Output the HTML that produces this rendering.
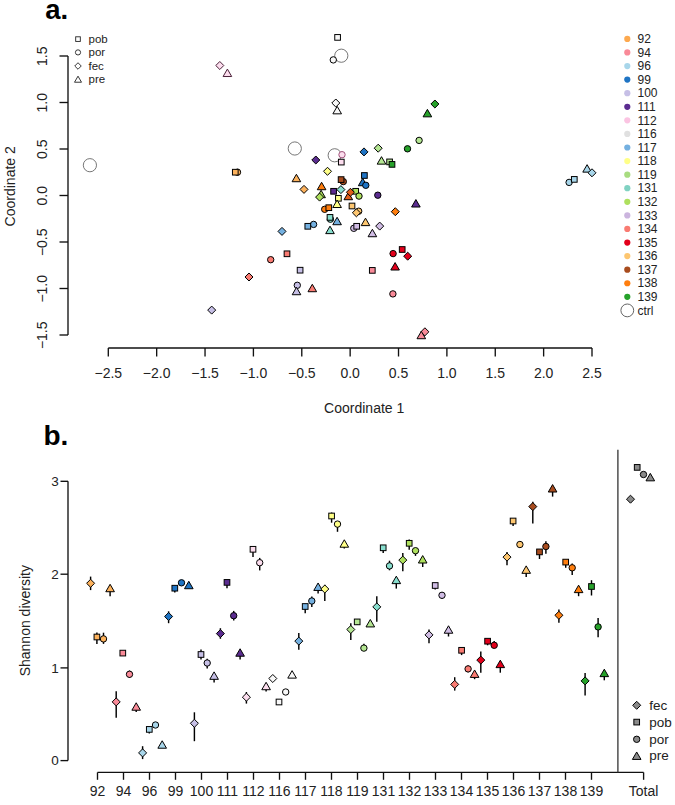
<!DOCTYPE html>
<html><head><meta charset="utf-8"><style>
html,body{margin:0;padding:0;background:#fff;width:675px;height:805px;overflow:hidden}
svg{display:block}
text{font-family:"Liberation Sans",sans-serif}
</style></head><body>
<svg width="675" height="805" viewBox="0 0 675 805">
<rect width="675" height="805" fill="#fff"/>
<text x="45.2" y="19.4" font-size="27.5" font-weight="bold" font-family="Liberation Sans, sans-serif">a.</text>
<line x1="68" y1="56" x2="68" y2="335" stroke="#111" stroke-width="1.35"/>
<line x1="59.5" y1="56.0" x2="68" y2="56.0" stroke="#111" stroke-width="1.35"/>
<text transform="translate(47.2 56.3) rotate(-90)" text-anchor="middle" font-size="14" font-family="Liberation Sans, sans-serif" fill="#222">1.5</text>
<line x1="59.5" y1="102.5" x2="68" y2="102.5" stroke="#111" stroke-width="1.35"/>
<text transform="translate(47.2 102.8) rotate(-90)" text-anchor="middle" font-size="14" font-family="Liberation Sans, sans-serif" fill="#222">1.0</text>
<line x1="59.5" y1="149.0" x2="68" y2="149.0" stroke="#111" stroke-width="1.35"/>
<text transform="translate(47.2 149.3) rotate(-90)" text-anchor="middle" font-size="14" font-family="Liberation Sans, sans-serif" fill="#222">0.5</text>
<line x1="59.5" y1="195.5" x2="68" y2="195.5" stroke="#111" stroke-width="1.35"/>
<text transform="translate(47.2 195.8) rotate(-90)" text-anchor="middle" font-size="14" font-family="Liberation Sans, sans-serif" fill="#222">0.0</text>
<line x1="59.5" y1="242.0" x2="68" y2="242.0" stroke="#111" stroke-width="1.35"/>
<text transform="translate(47.2 242.3) rotate(-90)" text-anchor="middle" font-size="14" font-family="Liberation Sans, sans-serif" fill="#222">−0.5</text>
<line x1="59.5" y1="288.5" x2="68" y2="288.5" stroke="#111" stroke-width="1.35"/>
<text transform="translate(47.2 288.8) rotate(-90)" text-anchor="middle" font-size="14" font-family="Liberation Sans, sans-serif" fill="#222">−1.0</text>
<line x1="59.5" y1="335.0" x2="68" y2="335.0" stroke="#111" stroke-width="1.35"/>
<text transform="translate(47.2 335.3) rotate(-90)" text-anchor="middle" font-size="14" font-family="Liberation Sans, sans-serif" fill="#222">−1.5</text>
<line x1="108.3" y1="348" x2="592" y2="348" stroke="#111" stroke-width="1.35"/>
<line x1="108.30" y1="348" x2="108.30" y2="356.5" stroke="#111" stroke-width="1.35"/>
<text x="108.30" y="378.4" text-anchor="middle" font-size="14" font-family="Liberation Sans, sans-serif" fill="#222">−2.5</text>
<line x1="156.67" y1="348" x2="156.67" y2="356.5" stroke="#111" stroke-width="1.35"/>
<text x="156.67" y="378.4" text-anchor="middle" font-size="14" font-family="Liberation Sans, sans-serif" fill="#222">−2.0</text>
<line x1="205.04" y1="348" x2="205.04" y2="356.5" stroke="#111" stroke-width="1.35"/>
<text x="205.04" y="378.4" text-anchor="middle" font-size="14" font-family="Liberation Sans, sans-serif" fill="#222">−1.5</text>
<line x1="253.41" y1="348" x2="253.41" y2="356.5" stroke="#111" stroke-width="1.35"/>
<text x="253.41" y="378.4" text-anchor="middle" font-size="14" font-family="Liberation Sans, sans-serif" fill="#222">−1.0</text>
<line x1="301.78" y1="348" x2="301.78" y2="356.5" stroke="#111" stroke-width="1.35"/>
<text x="301.78" y="378.4" text-anchor="middle" font-size="14" font-family="Liberation Sans, sans-serif" fill="#222">−0.5</text>
<line x1="350.15" y1="348" x2="350.15" y2="356.5" stroke="#111" stroke-width="1.35"/>
<text x="350.15" y="378.4" text-anchor="middle" font-size="14" font-family="Liberation Sans, sans-serif" fill="#222">0.0</text>
<line x1="398.52" y1="348" x2="398.52" y2="356.5" stroke="#111" stroke-width="1.35"/>
<text x="398.52" y="378.4" text-anchor="middle" font-size="14" font-family="Liberation Sans, sans-serif" fill="#222">0.5</text>
<line x1="446.89" y1="348" x2="446.89" y2="356.5" stroke="#111" stroke-width="1.35"/>
<text x="446.89" y="378.4" text-anchor="middle" font-size="14" font-family="Liberation Sans, sans-serif" fill="#222">1.0</text>
<line x1="495.26" y1="348" x2="495.26" y2="356.5" stroke="#111" stroke-width="1.35"/>
<text x="495.26" y="378.4" text-anchor="middle" font-size="14" font-family="Liberation Sans, sans-serif" fill="#222">1.5</text>
<line x1="543.63" y1="348" x2="543.63" y2="356.5" stroke="#111" stroke-width="1.35"/>
<text x="543.63" y="378.4" text-anchor="middle" font-size="14" font-family="Liberation Sans, sans-serif" fill="#222">2.0</text>
<line x1="592.00" y1="348" x2="592.00" y2="356.5" stroke="#111" stroke-width="1.35"/>
<text x="592.00" y="378.4" text-anchor="middle" font-size="14" font-family="Liberation Sans, sans-serif" fill="#222">2.5</text>
<text x="364.2" y="412.6" text-anchor="middle" font-size="14" font-family="Liberation Sans, sans-serif" fill="#222">Coordinate 1</text>
<text transform="translate(15 186.3) rotate(-90)" text-anchor="middle" font-size="14" font-family="Liberation Sans, sans-serif" fill="#222">Coordinate 2</text>
<rect x="75.70" y="36.80" width="4.61" height="4.61" fill="none" stroke="#222" stroke-width="0.9"/>
<circle cx="78.00" cy="52.40" r="2.60" fill="none" stroke="#222" stroke-width="0.9"/>
<path d="M78.00 62.74L81.26 66.00L78.00 69.26L74.74 66.00Z" fill="none" stroke="#222" stroke-width="0.9"/>
<path d="M78.00 76.17L81.50 82.23L74.50 82.23Z" fill="none" stroke="#222" stroke-width="0.9" stroke-linejoin="miter"/>
<text x="88.5" y="43.1" font-size="11.5" font-family="Liberation Sans, sans-serif" fill="#222">pob</text>
<text x="88.5" y="56.4" font-size="11.5" font-family="Liberation Sans, sans-serif" fill="#222">por</text>
<text x="88.5" y="70.0" font-size="11.5" font-family="Liberation Sans, sans-serif" fill="#222">fec</text>
<text x="88.5" y="83.2" font-size="11.5" font-family="Liberation Sans, sans-serif" fill="#222">pre</text>
<circle cx="627.3" cy="38.90" r="3.1" fill="#FDA94F"/>
<text x="637.5" y="43.10" font-size="12" font-family="Liberation Sans, sans-serif" fill="#222">92</text>
<circle cx="627.3" cy="52.47" r="3.1" fill="#F98A98"/>
<text x="637.5" y="56.67" font-size="12" font-family="Liberation Sans, sans-serif" fill="#222">94</text>
<circle cx="627.3" cy="66.05" r="3.1" fill="#A8D6EA"/>
<text x="637.5" y="70.25" font-size="12" font-family="Liberation Sans, sans-serif" fill="#222">96</text>
<circle cx="627.3" cy="79.62" r="3.1" fill="#1F74C4"/>
<text x="637.5" y="83.83" font-size="12" font-family="Liberation Sans, sans-serif" fill="#222">99</text>
<circle cx="627.3" cy="93.20" r="3.1" fill="#C6BFE6"/>
<text x="637.5" y="97.40" font-size="12" font-family="Liberation Sans, sans-serif" fill="#222">100</text>
<circle cx="627.3" cy="106.78" r="3.1" fill="#5B2C90"/>
<text x="637.5" y="110.98" font-size="12" font-family="Liberation Sans, sans-serif" fill="#222">111</text>
<circle cx="627.3" cy="120.35" r="3.1" fill="#FBC4E2"/>
<text x="637.5" y="124.55" font-size="12" font-family="Liberation Sans, sans-serif" fill="#222">112</text>
<circle cx="627.3" cy="133.92" r="3.1" fill="#E0E0E0"/>
<text x="637.5" y="138.12" font-size="12" font-family="Liberation Sans, sans-serif" fill="#222">116</text>
<circle cx="627.3" cy="147.50" r="3.1" fill="#74B0E0"/>
<text x="637.5" y="151.70" font-size="12" font-family="Liberation Sans, sans-serif" fill="#222">117</text>
<circle cx="627.3" cy="161.07" r="3.1" fill="#FFFF88"/>
<text x="637.5" y="165.27" font-size="12" font-family="Liberation Sans, sans-serif" fill="#222">118</text>
<circle cx="627.3" cy="174.65" r="3.1" fill="#A8DC80"/>
<text x="637.5" y="178.85" font-size="12" font-family="Liberation Sans, sans-serif" fill="#222">119</text>
<circle cx="627.3" cy="188.22" r="3.1" fill="#80D2C2"/>
<text x="637.5" y="192.42" font-size="12" font-family="Liberation Sans, sans-serif" fill="#222">131</text>
<circle cx="627.3" cy="201.80" r="3.1" fill="#AEE05E"/>
<text x="637.5" y="206.00" font-size="12" font-family="Liberation Sans, sans-serif" fill="#222">132</text>
<circle cx="627.3" cy="215.38" r="3.1" fill="#CBB4DE"/>
<text x="637.5" y="219.57" font-size="12" font-family="Liberation Sans, sans-serif" fill="#222">133</text>
<circle cx="627.3" cy="228.95" r="3.1" fill="#F97B72"/>
<text x="637.5" y="233.15" font-size="12" font-family="Liberation Sans, sans-serif" fill="#222">134</text>
<circle cx="627.3" cy="242.53" r="3.1" fill="#E3001B"/>
<text x="637.5" y="246.72" font-size="12" font-family="Liberation Sans, sans-serif" fill="#222">135</text>
<circle cx="627.3" cy="256.10" r="3.1" fill="#FDC670"/>
<text x="637.5" y="260.30" font-size="12" font-family="Liberation Sans, sans-serif" fill="#222">136</text>
<circle cx="627.3" cy="269.67" r="3.1" fill="#A84C1E"/>
<text x="637.5" y="273.87" font-size="12" font-family="Liberation Sans, sans-serif" fill="#222">137</text>
<circle cx="627.3" cy="283.25" r="3.1" fill="#FF7E0E"/>
<text x="637.5" y="287.45" font-size="12" font-family="Liberation Sans, sans-serif" fill="#222">138</text>
<circle cx="627.3" cy="296.82" r="3.1" fill="#26A22A"/>
<text x="637.5" y="301.02" font-size="12" font-family="Liberation Sans, sans-serif" fill="#222">139</text>
<circle cx="627.3" cy="310.40" r="6.4" fill="none" stroke="#555" stroke-width="0.9"/>
<text x="637.5" y="314.60" font-size="12" font-family="Liberation Sans, sans-serif" fill="#222">ctrl</text>
<circle cx="89.9" cy="165.2" r="6.6" fill="none" stroke="#666" stroke-width="0.9"/>
<circle cx="294.8" cy="148.5" r="6.6" fill="none" stroke="#666" stroke-width="0.9"/>
<circle cx="334.7" cy="155.3" r="6.6" fill="none" stroke="#666" stroke-width="0.9"/>
<circle cx="341.3" cy="55.7" r="6.6" fill="none" stroke="#666" stroke-width="0.9"/>
<rect x="334.76" y="34.56" width="5.67" height="5.67" fill="#F8F8F8" stroke="#000" stroke-width="1.0"/>
<circle cx="333.30" cy="59.90" r="3.20" fill="#F8F8F8" stroke="#000" stroke-width="1.0"/>
<path d="M335.80 98.99L339.81 103.00L335.80 107.01L331.79 103.00Z" fill="#F8F8F8" stroke="#000" stroke-width="1.0"/>
<path d="M337.20 106.37L341.51 113.83L332.89 113.83Z" fill="#F8F8F8" stroke="#000" stroke-width="1.0" stroke-linejoin="miter"/>
<path d="M219.80 61.49L223.81 65.50L219.80 69.51L215.79 65.50Z" fill="#FCDDEE" stroke="#4A2038" stroke-width="1.0"/>
<path d="M227.40 69.07L231.71 76.53L223.09 76.53Z" fill="#FCDDEE" stroke="#4A2038" stroke-width="1.0" stroke-linejoin="miter"/>
<circle cx="342.00" cy="154.70" r="3.20" fill="#FCDDEE" stroke="#A0507A" stroke-width="1.0"/>
<rect x="338.46" y="159.26" width="5.67" height="5.67" fill="#FCDDEE" stroke="#000" stroke-width="1.0"/>
<circle cx="237.50" cy="172.20" r="3.20" fill="#FDB25C" stroke="#000" stroke-width="1.0"/>
<rect x="232.46" y="169.36" width="5.67" height="5.67" fill="#FDB25C" stroke="#000" stroke-width="1.0"/>
<path d="M296.40 174.27L300.71 181.73L292.09 181.73Z" fill="#FDB25C" stroke="#000" stroke-width="1.0" stroke-linejoin="miter"/>
<path d="M304.00 185.39L308.01 189.40L304.00 193.41L299.99 189.40Z" fill="#FDB25C" stroke="#000" stroke-width="1.0"/>
<circle cx="419.10" cy="140.40" r="3.20" fill="#B4E692" stroke="#000" stroke-width="1.0"/>
<path d="M378.20 144.19L382.21 148.20L378.20 152.21L374.19 148.20Z" fill="#B4E692" stroke="#000" stroke-width="1.0"/>
<path d="M381.50 156.67L385.81 164.13L377.19 164.13Z" fill="#B4E692" stroke="#000" stroke-width="1.0" stroke-linejoin="miter"/>
<rect x="386.76" y="159.06" width="5.67" height="5.67" fill="#B4E692" stroke="#000" stroke-width="1.0"/>
<path d="M434.90 99.99L438.91 104.00L434.90 108.01L430.89 104.00Z" fill="#26A22A" stroke="#000" stroke-width="1.0"/>
<path d="M427.40 109.37L431.71 116.83L423.09 116.83Z" fill="#26A22A" stroke="#000" stroke-width="1.0" stroke-linejoin="miter"/>
<circle cx="407.50" cy="148.80" r="3.20" fill="#26A22A" stroke="#000" stroke-width="1.0"/>
<rect x="389.16" y="161.56" width="5.67" height="5.67" fill="#26A22A" stroke="#000" stroke-width="1.0"/>
<path d="M364.00 147.89L368.01 151.90L364.00 155.91L359.99 151.90Z" fill="#1F74C4" stroke="#000" stroke-width="1.0"/>
<rect x="361.56" y="172.66" width="5.67" height="5.67" fill="#1F74C4" stroke="#000" stroke-width="1.0"/>
<path d="M362.70 178.27L367.01 185.73L358.39 185.73Z" fill="#1F74C4" stroke="#000" stroke-width="1.0" stroke-linejoin="miter"/>
<circle cx="365.80" cy="185.30" r="3.20" fill="#1F74C4" stroke="#000" stroke-width="1.0"/>
<path d="M315.80 155.99L319.81 160.00L315.80 164.01L311.79 160.00Z" fill="#5B2C90" stroke="#000" stroke-width="1.0"/>
<rect x="330.76" y="188.46" width="5.67" height="5.67" fill="#5B2C90" stroke="#000" stroke-width="1.0"/>
<circle cx="377.80" cy="195.20" r="3.20" fill="#5B2C90" stroke="#000" stroke-width="1.0"/>
<path d="M415.90 199.57L420.21 207.03L411.59 207.03Z" fill="#5B2C90" stroke="#000" stroke-width="1.0" stroke-linejoin="miter"/>
<path d="M327.50 167.29L331.51 171.30L327.50 175.31L323.49 171.30Z" fill="#FFFF88" stroke="#000" stroke-width="1.0"/>
<rect x="335.56" y="195.46" width="5.67" height="5.67" fill="#FFFF88" stroke="#000" stroke-width="1.0"/>
<path d="M337.10 200.07L341.41 207.53L332.79 207.53Z" fill="#FFFF88" stroke="#000" stroke-width="1.0" stroke-linejoin="miter"/>
<circle cx="343.30" cy="181.60" r="3.20" fill="#A84C1E" stroke="#000" stroke-width="1.0"/>
<rect x="338.26" y="176.76" width="5.67" height="5.67" fill="#A84C1E" stroke="#000" stroke-width="1.0"/>
<path d="M340.90 185.59L344.91 189.60L340.90 193.61L336.89 189.60Z" fill="#88DECE" stroke="#000" stroke-width="1.0"/>
<path d="M321.10 190.27L325.41 197.73L316.79 197.73Z" fill="#AEE05E" stroke="#000" stroke-width="1.0" stroke-linejoin="miter"/>
<path d="M319.60 193.09L323.61 197.10L319.60 201.11L315.59 197.10Z" fill="#AEE05E" stroke="#000" stroke-width="1.0"/>
<path d="M321.60 182.27L325.91 189.73L317.29 189.73Z" fill="#FF7E0E" stroke="#000" stroke-width="1.0" stroke-linejoin="miter"/>
<circle cx="324.70" cy="209.30" r="3.20" fill="#FF7E0E" stroke="#000" stroke-width="1.0"/>
<rect x="325.96" y="204.86" width="5.67" height="5.67" fill="#FF7E0E" stroke="#000" stroke-width="1.0"/>
<path d="M395.30 207.69L399.31 211.70L395.30 215.71L391.29 211.70Z" fill="#FF7E0E" stroke="#000" stroke-width="1.0"/>
<path d="M348.30 192.27L352.61 199.73L343.99 199.73Z" fill="#E05E1C" stroke="#000" stroke-width="1.0" stroke-linejoin="miter"/>
<rect x="352.86" y="188.46" width="5.67" height="5.67" fill="#AEE05E" stroke="#000" stroke-width="1.0"/>
<path d="M350.40 188.29L354.41 192.30L350.40 196.31L346.39 192.30Z" fill="#E05E1C" stroke="#000" stroke-width="1.0"/>
<circle cx="359.00" cy="196.10" r="3.20" fill="#AEE05E" stroke="#000" stroke-width="1.0"/>
<rect x="349.16" y="203.16" width="5.67" height="5.67" fill="#FDC670" stroke="#000" stroke-width="1.0"/>
<circle cx="358.70" cy="211.20" r="3.20" fill="#FDC670" stroke="#000" stroke-width="1.0"/>
<path d="M356.40 208.79L360.41 212.80L356.40 216.81L352.39 212.80Z" fill="#FDC670" stroke="#000" stroke-width="1.0"/>
<path d="M365.50 218.17L369.81 225.63L361.19 225.63Z" fill="#FDC670" stroke="#000" stroke-width="1.0" stroke-linejoin="miter"/>
<circle cx="330.40" cy="219.20" r="3.20" fill="#88DECE" stroke="#000" stroke-width="1.0"/>
<rect x="327.16" y="214.56" width="5.67" height="5.67" fill="#88DECE" stroke="#000" stroke-width="1.0"/>
<path d="M330.00 226.17L334.31 233.63L325.69 233.63Z" fill="#88DECE" stroke="#000" stroke-width="1.0" stroke-linejoin="miter"/>
<path d="M337.10 217.27L341.41 224.73L332.79 224.73Z" fill="#74B0E0" stroke="#000" stroke-width="1.0" stroke-linejoin="miter"/>
<path d="M282.00 227.39L286.01 231.40L282.00 235.41L277.99 231.40Z" fill="#74B0E0" stroke="#000" stroke-width="1.0"/>
<circle cx="313.60" cy="224.40" r="3.20" fill="#74B0E0" stroke="#000" stroke-width="1.0"/>
<rect x="304.96" y="223.46" width="5.67" height="5.67" fill="#74B0E0" stroke="#000" stroke-width="1.0"/>
<circle cx="353.80" cy="228.30" r="3.20" fill="#D0BCE4" stroke="#000" stroke-width="1.0"/>
<rect x="353.86" y="223.46" width="5.67" height="5.67" fill="#D0BCE4" stroke="#000" stroke-width="1.0"/>
<path d="M379.70 222.09L383.71 226.10L379.70 230.11L375.69 226.10Z" fill="#D0BCE4" stroke="#000" stroke-width="1.0"/>
<path d="M372.40 229.27L376.71 236.73L368.09 236.73Z" fill="#D0BCE4" stroke="#000" stroke-width="1.0" stroke-linejoin="miter"/>
<rect x="399.36" y="246.66" width="5.67" height="5.67" fill="#E3001B" stroke="#000" stroke-width="1.0"/>
<circle cx="393.10" cy="253.60" r="3.20" fill="#E3001B" stroke="#000" stroke-width="1.0"/>
<path d="M407.70 252.19L411.71 256.20L407.70 260.21L403.69 256.20Z" fill="#E3001B" stroke="#000" stroke-width="1.0"/>
<path d="M395.10 262.57L399.41 270.03L390.79 270.03Z" fill="#E3001B" stroke="#000" stroke-width="1.0" stroke-linejoin="miter"/>
<rect x="284.16" y="250.96" width="5.67" height="5.67" fill="#F97B72" stroke="#000" stroke-width="1.0"/>
<circle cx="270.70" cy="259.70" r="3.20" fill="#F97B72" stroke="#000" stroke-width="1.0"/>
<path d="M249.00 272.99L253.01 277.00L249.00 281.01L244.99 277.00Z" fill="#F97B72" stroke="#000" stroke-width="1.0"/>
<path d="M312.30 284.27L316.61 291.73L307.99 291.73Z" fill="#F97B72" stroke="#000" stroke-width="1.0" stroke-linejoin="miter"/>
<rect x="369.46" y="267.56" width="5.67" height="5.67" fill="#F98A98" stroke="#000" stroke-width="1.0"/>
<circle cx="392.90" cy="293.90" r="3.20" fill="#F98A98" stroke="#000" stroke-width="1.0"/>
<path d="M424.90 327.79L428.91 331.80L424.90 335.81L420.89 331.80Z" fill="#F98A98" stroke="#000" stroke-width="1.0"/>
<path d="M421.30 331.27L425.61 338.73L416.99 338.73Z" fill="#F98A98" stroke="#000" stroke-width="1.0" stroke-linejoin="miter"/>
<rect x="297.26" y="267.36" width="5.67" height="5.67" fill="#C6BFE6" stroke="#000" stroke-width="1.0"/>
<circle cx="297.30" cy="285.30" r="3.20" fill="#C6BFE6" stroke="#000" stroke-width="1.0"/>
<path d="M296.50 287.27L300.81 294.73L292.19 294.73Z" fill="#C6BFE6" stroke="#000" stroke-width="1.0" stroke-linejoin="miter"/>
<path d="M211.70 306.09L215.71 310.10L211.70 314.11L207.69 310.10Z" fill="#C6BFE6" stroke="#000" stroke-width="1.0"/>
<circle cx="569.10" cy="182.40" r="3.20" fill="#A8D6EA" stroke="#000" stroke-width="1.0"/>
<rect x="571.46" y="176.56" width="5.67" height="5.67" fill="#A8D6EA" stroke="#000" stroke-width="1.0"/>
<path d="M587.10 164.67L591.41 172.13L582.79 172.13Z" fill="#A8D6EA" stroke="#000" stroke-width="1.0" stroke-linejoin="miter"/>
<path d="M592.00 168.79L596.01 172.80L592.00 176.81L587.99 172.80Z" fill="#A8D6EA" stroke="#000" stroke-width="1.0"/>
<text x="43.5" y="444.5" font-size="28" font-weight="bold" font-family="Liberation Sans, sans-serif">b.</text>
<line x1="68" y1="481.3" x2="68" y2="760.6" stroke="#111" stroke-width="1.35"/>
<line x1="60.5" y1="760.6" x2="68" y2="760.6" stroke="#111" stroke-width="1.35"/>
<text x="58.8" y="765.4" text-anchor="end" font-size="13.5" font-family="Liberation Sans, sans-serif" fill="#222">0</text>
<line x1="60.5" y1="667.9" x2="68" y2="667.9" stroke="#111" stroke-width="1.35"/>
<text x="58.8" y="672.7" text-anchor="end" font-size="13.5" font-family="Liberation Sans, sans-serif" fill="#222">1</text>
<line x1="60.5" y1="574.2" x2="68" y2="574.2" stroke="#111" stroke-width="1.35"/>
<text x="58.8" y="579.0" text-anchor="end" font-size="13.5" font-family="Liberation Sans, sans-serif" fill="#222">2</text>
<line x1="60.5" y1="481.3" x2="68" y2="481.3" stroke="#111" stroke-width="1.35"/>
<text x="58.8" y="486.1" text-anchor="end" font-size="13.5" font-family="Liberation Sans, sans-serif" fill="#222">3</text>
<text transform="translate(30 620.7) rotate(-90)" text-anchor="middle" font-size="14" font-family="Liberation Sans, sans-serif" fill="#222">Shannon diversity</text>
<line x1="97.5" y1="772.4" x2="643.6" y2="772.4" stroke="#111" stroke-width="1.35"/>
<line x1="97.50" y1="772.4" x2="97.50" y2="779.8" stroke="#111" stroke-width="1.35"/>
<text x="97.50" y="795.7" text-anchor="middle" font-size="14" font-family="Liberation Sans, sans-serif" fill="#222">92</text>
<line x1="123.50" y1="772.4" x2="123.50" y2="779.8" stroke="#111" stroke-width="1.35"/>
<text x="123.50" y="795.7" text-anchor="middle" font-size="14" font-family="Liberation Sans, sans-serif" fill="#222">94</text>
<line x1="149.50" y1="772.4" x2="149.50" y2="779.8" stroke="#111" stroke-width="1.35"/>
<text x="149.50" y="795.7" text-anchor="middle" font-size="14" font-family="Liberation Sans, sans-serif" fill="#222">96</text>
<line x1="175.50" y1="772.4" x2="175.50" y2="779.8" stroke="#111" stroke-width="1.35"/>
<text x="175.50" y="795.7" text-anchor="middle" font-size="14" font-family="Liberation Sans, sans-serif" fill="#222">99</text>
<line x1="201.50" y1="772.4" x2="201.50" y2="779.8" stroke="#111" stroke-width="1.35"/>
<text x="201.50" y="795.7" text-anchor="middle" font-size="14" font-family="Liberation Sans, sans-serif" fill="#222">100</text>
<line x1="227.50" y1="772.4" x2="227.50" y2="779.8" stroke="#111" stroke-width="1.35"/>
<text x="227.50" y="795.7" text-anchor="middle" font-size="14" font-family="Liberation Sans, sans-serif" fill="#222">111</text>
<line x1="253.50" y1="772.4" x2="253.50" y2="779.8" stroke="#111" stroke-width="1.35"/>
<text x="253.50" y="795.7" text-anchor="middle" font-size="14" font-family="Liberation Sans, sans-serif" fill="#222">112</text>
<line x1="279.50" y1="772.4" x2="279.50" y2="779.8" stroke="#111" stroke-width="1.35"/>
<text x="279.50" y="795.7" text-anchor="middle" font-size="14" font-family="Liberation Sans, sans-serif" fill="#222">116</text>
<line x1="305.50" y1="772.4" x2="305.50" y2="779.8" stroke="#111" stroke-width="1.35"/>
<text x="305.50" y="795.7" text-anchor="middle" font-size="14" font-family="Liberation Sans, sans-serif" fill="#222">117</text>
<line x1="331.50" y1="772.4" x2="331.50" y2="779.8" stroke="#111" stroke-width="1.35"/>
<text x="331.50" y="795.7" text-anchor="middle" font-size="14" font-family="Liberation Sans, sans-serif" fill="#222">118</text>
<line x1="357.50" y1="772.4" x2="357.50" y2="779.8" stroke="#111" stroke-width="1.35"/>
<text x="357.50" y="795.7" text-anchor="middle" font-size="14" font-family="Liberation Sans, sans-serif" fill="#222">119</text>
<line x1="383.50" y1="772.4" x2="383.50" y2="779.8" stroke="#111" stroke-width="1.35"/>
<text x="383.50" y="795.7" text-anchor="middle" font-size="14" font-family="Liberation Sans, sans-serif" fill="#222">131</text>
<line x1="409.50" y1="772.4" x2="409.50" y2="779.8" stroke="#111" stroke-width="1.35"/>
<text x="409.50" y="795.7" text-anchor="middle" font-size="14" font-family="Liberation Sans, sans-serif" fill="#222">132</text>
<line x1="435.50" y1="772.4" x2="435.50" y2="779.8" stroke="#111" stroke-width="1.35"/>
<text x="435.50" y="795.7" text-anchor="middle" font-size="14" font-family="Liberation Sans, sans-serif" fill="#222">133</text>
<line x1="461.50" y1="772.4" x2="461.50" y2="779.8" stroke="#111" stroke-width="1.35"/>
<text x="461.50" y="795.7" text-anchor="middle" font-size="14" font-family="Liberation Sans, sans-serif" fill="#222">134</text>
<line x1="487.50" y1="772.4" x2="487.50" y2="779.8" stroke="#111" stroke-width="1.35"/>
<text x="487.50" y="795.7" text-anchor="middle" font-size="14" font-family="Liberation Sans, sans-serif" fill="#222">135</text>
<line x1="513.50" y1="772.4" x2="513.50" y2="779.8" stroke="#111" stroke-width="1.35"/>
<text x="513.50" y="795.7" text-anchor="middle" font-size="14" font-family="Liberation Sans, sans-serif" fill="#222">136</text>
<line x1="539.50" y1="772.4" x2="539.50" y2="779.8" stroke="#111" stroke-width="1.35"/>
<text x="539.50" y="795.7" text-anchor="middle" font-size="14" font-family="Liberation Sans, sans-serif" fill="#222">137</text>
<line x1="565.50" y1="772.4" x2="565.50" y2="779.8" stroke="#111" stroke-width="1.35"/>
<text x="565.50" y="795.7" text-anchor="middle" font-size="14" font-family="Liberation Sans, sans-serif" fill="#222">138</text>
<line x1="591.50" y1="772.4" x2="591.50" y2="779.8" stroke="#111" stroke-width="1.35"/>
<text x="591.50" y="795.7" text-anchor="middle" font-size="14" font-family="Liberation Sans, sans-serif" fill="#222">139</text>
<line x1="643.60" y1="772.4" x2="643.60" y2="779.8" stroke="#111" stroke-width="1.35"/>
<text x="643.60" y="795.7" text-anchor="middle" font-size="14" font-family="Liberation Sans, sans-serif" fill="#222">Total</text>
<line x1="617.9" y1="449.8" x2="617.9" y2="772.4" stroke="#333" stroke-width="1.3"/>
<line x1="90.6" y1="576.6" x2="90.6" y2="583.3" stroke="#000" stroke-width="1.45"/>
<line x1="90.6" y1="583.3" x2="90.6" y2="590.1" stroke="#000" stroke-width="1.45"/>
<line x1="96.9" y1="632.5" x2="96.9" y2="637.0" stroke="#000" stroke-width="1.45"/>
<line x1="96.9" y1="637.0" x2="96.9" y2="644.0" stroke="#000" stroke-width="1.45"/>
<line x1="103.5" y1="632.7" x2="103.5" y2="638.9" stroke="#000" stroke-width="1.45"/>
<line x1="103.5" y1="638.9" x2="103.5" y2="643.9" stroke="#000" stroke-width="1.45"/>
<line x1="110.1" y1="589.2448" x2="110.1" y2="596.2" stroke="#000" stroke-width="1.45"/>
<line x1="116.2" y1="691.3" x2="116.2" y2="701.9" stroke="#000" stroke-width="1.45"/>
<line x1="116.2" y1="701.9" x2="116.2" y2="717.8" stroke="#000" stroke-width="1.45"/>
<line x1="129.5" y1="670.5" x2="129.5" y2="674.3" stroke="#000" stroke-width="1.45"/>
<line x1="129.5" y1="674.3" x2="129.5" y2="678.0" stroke="#000" stroke-width="1.45"/>
<line x1="136.2" y1="707.7448" x2="136.2" y2="712.0" stroke="#000" stroke-width="1.45"/>
<line x1="142.6" y1="746.2" x2="142.6" y2="752.9" stroke="#000" stroke-width="1.45"/>
<line x1="142.6" y1="752.9" x2="142.6" y2="759.1" stroke="#000" stroke-width="1.45"/>
<line x1="149.3" y1="729.4" x2="149.3" y2="733.5" stroke="#000" stroke-width="1.45"/>
<line x1="168.6" y1="611.3" x2="168.6" y2="616.5" stroke="#000" stroke-width="1.45"/>
<line x1="168.6" y1="616.5" x2="168.6" y2="623.2" stroke="#000" stroke-width="1.45"/>
<line x1="174.8" y1="588.2" x2="174.8" y2="592.4" stroke="#000" stroke-width="1.45"/>
<line x1="194.4" y1="712.3" x2="194.4" y2="723.3" stroke="#000" stroke-width="1.45"/>
<line x1="194.4" y1="723.3" x2="194.4" y2="741.2" stroke="#000" stroke-width="1.45"/>
<line x1="201.0" y1="649.6" x2="201.0" y2="654.5" stroke="#000" stroke-width="1.45"/>
<line x1="201.0" y1="654.5" x2="201.0" y2="659.4" stroke="#000" stroke-width="1.45"/>
<line x1="207.2" y1="658.7" x2="207.2" y2="663.0" stroke="#000" stroke-width="1.45"/>
<line x1="207.2" y1="663.0" x2="207.2" y2="668.4" stroke="#000" stroke-width="1.45"/>
<line x1="214.1" y1="676.8448000000001" x2="214.1" y2="682.4" stroke="#000" stroke-width="1.45"/>
<line x1="220.4" y1="628.2" x2="220.4" y2="633.6" stroke="#000" stroke-width="1.45"/>
<line x1="220.4" y1="633.6" x2="220.4" y2="638.8" stroke="#000" stroke-width="1.45"/>
<line x1="227.0" y1="582.4" x2="227.0" y2="588.2" stroke="#000" stroke-width="1.45"/>
<line x1="233.7" y1="610.9" x2="233.7" y2="615.7" stroke="#000" stroke-width="1.45"/>
<line x1="233.7" y1="615.7" x2="233.7" y2="620.5" stroke="#000" stroke-width="1.45"/>
<line x1="240.1" y1="653.7448" x2="240.1" y2="659.5" stroke="#000" stroke-width="1.45"/>
<line x1="246.4" y1="692.0" x2="246.4" y2="697.2" stroke="#000" stroke-width="1.45"/>
<line x1="246.4" y1="697.2" x2="246.4" y2="703.6" stroke="#000" stroke-width="1.45"/>
<line x1="253.0" y1="549.3" x2="253.0" y2="557.0" stroke="#000" stroke-width="1.45"/>
<line x1="259.7" y1="557.9" x2="259.7" y2="562.7" stroke="#000" stroke-width="1.45"/>
<line x1="259.7" y1="562.7" x2="259.7" y2="570.4" stroke="#000" stroke-width="1.45"/>
<line x1="266.1" y1="687.2448" x2="266.1" y2="691.6" stroke="#000" stroke-width="1.45"/>
<line x1="298.8" y1="633.0" x2="298.8" y2="641.1" stroke="#000" stroke-width="1.45"/>
<line x1="298.8" y1="641.1" x2="298.8" y2="649.8" stroke="#000" stroke-width="1.45"/>
<line x1="305.2" y1="606.5" x2="305.2" y2="613.2" stroke="#000" stroke-width="1.45"/>
<line x1="311.8" y1="596.4" x2="311.8" y2="601.0" stroke="#000" stroke-width="1.45"/>
<line x1="311.8" y1="601.0" x2="311.8" y2="607.0" stroke="#000" stroke-width="1.45"/>
<line x1="318.1" y1="587.9448000000001" x2="318.1" y2="593.5" stroke="#000" stroke-width="1.45"/>
<line x1="324.8" y1="584.7" x2="324.8" y2="589.0" stroke="#000" stroke-width="1.45"/>
<line x1="324.8" y1="589.0" x2="324.8" y2="601.1" stroke="#000" stroke-width="1.45"/>
<line x1="331.6" y1="512.5" x2="331.6" y2="516.0" stroke="#000" stroke-width="1.45"/>
<line x1="331.6" y1="516.0" x2="331.6" y2="522.7" stroke="#000" stroke-width="1.45"/>
<line x1="337.5" y1="524.1" x2="337.5" y2="531.8" stroke="#000" stroke-width="1.45"/>
<line x1="344.3" y1="544.7448" x2="344.3" y2="548.5" stroke="#000" stroke-width="1.45"/>
<line x1="350.8" y1="623.2" x2="350.8" y2="629.5" stroke="#000" stroke-width="1.45"/>
<line x1="350.8" y1="629.5" x2="350.8" y2="639.9" stroke="#000" stroke-width="1.45"/>
<line x1="357.2" y1="619.0" x2="357.2" y2="621.9" stroke="#000" stroke-width="1.45"/>
<line x1="357.2" y1="621.9" x2="357.2" y2="625.0" stroke="#000" stroke-width="1.45"/>
<line x1="363.9" y1="643.7" x2="363.9" y2="648.1" stroke="#000" stroke-width="1.45"/>
<line x1="376.8" y1="596.3" x2="376.8" y2="606.9" stroke="#000" stroke-width="1.45"/>
<line x1="376.8" y1="606.9" x2="376.8" y2="621.7" stroke="#000" stroke-width="1.45"/>
<line x1="383.2" y1="547.8" x2="383.2" y2="553.0" stroke="#000" stroke-width="1.45"/>
<line x1="389.5" y1="560.7" x2="389.5" y2="565.9" stroke="#000" stroke-width="1.45"/>
<line x1="389.5" y1="565.9" x2="389.5" y2="570.3" stroke="#000" stroke-width="1.45"/>
<line x1="396.3" y1="581.1448" x2="396.3" y2="588.6" stroke="#000" stroke-width="1.45"/>
<line x1="402.8" y1="553.0" x2="402.8" y2="560.1" stroke="#000" stroke-width="1.45"/>
<line x1="402.8" y1="560.1" x2="402.8" y2="571.3" stroke="#000" stroke-width="1.45"/>
<line x1="409.2" y1="539.5" x2="409.2" y2="543.3" stroke="#000" stroke-width="1.45"/>
<line x1="409.2" y1="543.3" x2="409.2" y2="549.7" stroke="#000" stroke-width="1.45"/>
<line x1="415.5" y1="550.7" x2="415.5" y2="555.9" stroke="#000" stroke-width="1.45"/>
<line x1="422.7" y1="560.5448" x2="422.7" y2="567.0" stroke="#000" stroke-width="1.45"/>
<line x1="429.0" y1="629.5" x2="429.0" y2="634.9" stroke="#000" stroke-width="1.45"/>
<line x1="429.0" y1="634.9" x2="429.0" y2="643.3" stroke="#000" stroke-width="1.45"/>
<line x1="435.2" y1="585.5" x2="435.2" y2="589.6" stroke="#000" stroke-width="1.45"/>
<line x1="442.0" y1="592.0" x2="442.0" y2="595.3" stroke="#000" stroke-width="1.45"/>
<line x1="442.0" y1="595.3" x2="442.0" y2="598.6" stroke="#000" stroke-width="1.45"/>
<line x1="448.5" y1="630.7448" x2="448.5" y2="636.5" stroke="#000" stroke-width="1.45"/>
<line x1="454.7" y1="677.2" x2="454.7" y2="684.4" stroke="#000" stroke-width="1.45"/>
<line x1="454.7" y1="684.4" x2="454.7" y2="690.6" stroke="#000" stroke-width="1.45"/>
<line x1="461.6" y1="650.3" x2="461.6" y2="655.1" stroke="#000" stroke-width="1.45"/>
<line x1="468.1" y1="665.6" x2="468.1" y2="668.9" stroke="#000" stroke-width="1.45"/>
<line x1="468.1" y1="668.9" x2="468.1" y2="672.2" stroke="#000" stroke-width="1.45"/>
<line x1="474.6" y1="674.9448000000001" x2="474.6" y2="679.2" stroke="#000" stroke-width="1.45"/>
<line x1="480.8" y1="651.5" x2="480.8" y2="660.1" stroke="#000" stroke-width="1.45"/>
<line x1="480.8" y1="660.1" x2="480.8" y2="672.7" stroke="#000" stroke-width="1.45"/>
<line x1="487.6" y1="641.2" x2="487.6" y2="645.3" stroke="#000" stroke-width="1.45"/>
<line x1="494.2" y1="640.9" x2="494.2" y2="645.3" stroke="#000" stroke-width="1.45"/>
<line x1="500.3" y1="665.1448" x2="500.3" y2="672.7" stroke="#000" stroke-width="1.45"/>
<line x1="507.0" y1="551.9" x2="507.0" y2="557.1" stroke="#000" stroke-width="1.45"/>
<line x1="507.0" y1="557.1" x2="507.0" y2="565.3" stroke="#000" stroke-width="1.45"/>
<line x1="513.1" y1="521.0" x2="513.1" y2="525.9" stroke="#000" stroke-width="1.45"/>
<line x1="526.2" y1="570.8448000000001" x2="526.2" y2="576.9" stroke="#000" stroke-width="1.45"/>
<line x1="532.8" y1="501.8" x2="532.8" y2="506.6" stroke="#000" stroke-width="1.45"/>
<line x1="532.8" y1="506.6" x2="532.8" y2="523.5" stroke="#000" stroke-width="1.45"/>
<line x1="539.5" y1="551.9" x2="539.5" y2="559.0" stroke="#000" stroke-width="1.45"/>
<line x1="545.9" y1="541.3" x2="545.9" y2="546.5" stroke="#000" stroke-width="1.45"/>
<line x1="545.9" y1="546.5" x2="545.9" y2="553.8" stroke="#000" stroke-width="1.45"/>
<line x1="552.6" y1="489.5448" x2="552.6" y2="496.6" stroke="#000" stroke-width="1.45"/>
<line x1="558.9" y1="609.4" x2="558.9" y2="615.3" stroke="#000" stroke-width="1.45"/>
<line x1="558.9" y1="615.3" x2="558.9" y2="622.8" stroke="#000" stroke-width="1.45"/>
<line x1="565.7" y1="562.1" x2="565.7" y2="567.8" stroke="#000" stroke-width="1.45"/>
<line x1="572.2" y1="563.4" x2="572.2" y2="567.8" stroke="#000" stroke-width="1.45"/>
<line x1="572.2" y1="567.8" x2="572.2" y2="575.0" stroke="#000" stroke-width="1.45"/>
<line x1="578.6" y1="590.1448" x2="578.6" y2="596.2" stroke="#000" stroke-width="1.45"/>
<line x1="585.1" y1="673.1" x2="585.1" y2="680.9" stroke="#000" stroke-width="1.45"/>
<line x1="585.1" y1="680.9" x2="585.1" y2="695.6" stroke="#000" stroke-width="1.45"/>
<line x1="591.5" y1="580.2" x2="591.5" y2="586.5" stroke="#000" stroke-width="1.45"/>
<line x1="591.5" y1="586.5" x2="591.5" y2="595.5" stroke="#000" stroke-width="1.45"/>
<line x1="598.1" y1="618.0" x2="598.1" y2="626.9" stroke="#000" stroke-width="1.45"/>
<line x1="598.1" y1="626.9" x2="598.1" y2="637.2" stroke="#000" stroke-width="1.45"/>
<line x1="604.3" y1="674.1448" x2="604.3" y2="680.3" stroke="#000" stroke-width="1.45"/>
<path d="M90.60 579.29L94.61 583.30L90.60 587.31L86.59 583.30Z" fill="#FDB25C" stroke="#000" stroke-width="1.0"/>
<rect x="94.06" y="634.16" width="5.67" height="5.67" fill="#FDB25C" stroke="#000" stroke-width="1.0"/>
<circle cx="103.50" cy="638.90" r="3.20" fill="#FDB25C" stroke="#000" stroke-width="1.0"/>
<path d="M110.10 584.27L114.41 591.73L105.79 591.73Z" fill="#FDB25C" stroke="#000" stroke-width="1.0" stroke-linejoin="miter"/>
<path d="M116.20 697.89L120.21 701.90L116.20 705.91L112.19 701.90Z" fill="#F98A98" stroke="#000" stroke-width="1.0"/>
<rect x="119.96" y="650.26" width="5.67" height="5.67" fill="#F98A98" stroke="#000" stroke-width="1.0"/>
<circle cx="129.50" cy="674.30" r="3.20" fill="#F98A98" stroke="#000" stroke-width="1.0"/>
<path d="M136.20 702.77L140.51 710.23L131.89 710.23Z" fill="#F98A98" stroke="#000" stroke-width="1.0" stroke-linejoin="miter"/>
<path d="M142.60 748.89L146.61 752.90L142.60 756.91L138.59 752.90Z" fill="#A8D6EA" stroke="#000" stroke-width="1.0"/>
<rect x="146.46" y="726.56" width="5.67" height="5.67" fill="#A8D6EA" stroke="#000" stroke-width="1.0"/>
<circle cx="155.50" cy="725.00" r="3.20" fill="#A8D6EA" stroke="#000" stroke-width="1.0"/>
<path d="M162.20 740.77L166.51 748.23L157.89 748.23Z" fill="#A8D6EA" stroke="#000" stroke-width="1.0" stroke-linejoin="miter"/>
<path d="M168.60 612.49L172.61 616.50L168.60 620.51L164.59 616.50Z" fill="#1F74C4" stroke="#000" stroke-width="1.0"/>
<rect x="171.96" y="585.36" width="5.67" height="5.67" fill="#1F74C4" stroke="#000" stroke-width="1.0"/>
<circle cx="181.50" cy="582.80" r="3.20" fill="#1F74C4" stroke="#000" stroke-width="1.0"/>
<path d="M188.80 581.27L193.11 588.73L184.49 588.73Z" fill="#1F74C4" stroke="#000" stroke-width="1.0" stroke-linejoin="miter"/>
<path d="M194.40 719.29L198.41 723.30L194.40 727.31L190.39 723.30Z" fill="#C6BFE6" stroke="#000" stroke-width="1.0"/>
<rect x="198.16" y="651.66" width="5.67" height="5.67" fill="#C6BFE6" stroke="#000" stroke-width="1.0"/>
<circle cx="207.20" cy="663.00" r="3.20" fill="#C6BFE6" stroke="#000" stroke-width="1.0"/>
<path d="M214.10 671.87L218.41 679.33L209.79 679.33Z" fill="#C6BFE6" stroke="#000" stroke-width="1.0" stroke-linejoin="miter"/>
<path d="M220.40 629.59L224.41 633.60L220.40 637.61L216.39 633.60Z" fill="#5B2C90" stroke="#000" stroke-width="1.0"/>
<rect x="224.16" y="579.56" width="5.67" height="5.67" fill="#5B2C90" stroke="#000" stroke-width="1.0"/>
<circle cx="233.70" cy="615.70" r="3.20" fill="#5B2C90" stroke="#000" stroke-width="1.0"/>
<path d="M240.10 648.77L244.41 656.23L235.79 656.23Z" fill="#5B2C90" stroke="#000" stroke-width="1.0" stroke-linejoin="miter"/>
<path d="M246.40 693.19L250.41 697.20L246.40 701.21L242.39 697.20Z" fill="#FCDDEE" stroke="#000" stroke-width="1.0"/>
<rect x="250.16" y="546.46" width="5.67" height="5.67" fill="#FCDDEE" stroke="#000" stroke-width="1.0"/>
<circle cx="259.70" cy="562.70" r="3.20" fill="#FCDDEE" stroke="#000" stroke-width="1.0"/>
<path d="M266.10 682.27L270.41 689.73L261.79 689.73Z" fill="#FCDDEE" stroke="#000" stroke-width="1.0" stroke-linejoin="miter"/>
<path d="M272.80 674.49L276.81 678.50L272.80 682.51L268.79 678.50Z" fill="#F8F8F8" stroke="#000" stroke-width="1.0"/>
<rect x="276.16" y="699.16" width="5.67" height="5.67" fill="#F8F8F8" stroke="#000" stroke-width="1.0"/>
<circle cx="285.70" cy="692.00" r="3.20" fill="#F8F8F8" stroke="#000" stroke-width="1.0"/>
<path d="M292.10 670.67L296.41 678.13L287.79 678.13Z" fill="#F8F8F8" stroke="#000" stroke-width="1.0" stroke-linejoin="miter"/>
<path d="M298.80 637.09L302.81 641.10L298.80 645.11L294.79 641.10Z" fill="#74B0E0" stroke="#000" stroke-width="1.0"/>
<rect x="302.36" y="603.66" width="5.67" height="5.67" fill="#74B0E0" stroke="#000" stroke-width="1.0"/>
<circle cx="311.80" cy="601.00" r="3.20" fill="#74B0E0" stroke="#000" stroke-width="1.0"/>
<path d="M318.10 582.97L322.41 590.43L313.79 590.43Z" fill="#74B0E0" stroke="#000" stroke-width="1.0" stroke-linejoin="miter"/>
<path d="M324.80 584.99L328.81 589.00L324.80 593.01L320.79 589.00Z" fill="#FFFF88" stroke="#000" stroke-width="1.0"/>
<rect x="328.76" y="513.16" width="5.67" height="5.67" fill="#FFFF88" stroke="#000" stroke-width="1.0"/>
<circle cx="337.50" cy="524.10" r="3.20" fill="#FFFF88" stroke="#000" stroke-width="1.0"/>
<path d="M344.30 539.77L348.61 547.23L339.99 547.23Z" fill="#FFFF88" stroke="#000" stroke-width="1.0" stroke-linejoin="miter"/>
<path d="M350.80 625.49L354.81 629.50L350.80 633.51L346.79 629.50Z" fill="#B4E692" stroke="#000" stroke-width="1.0"/>
<rect x="354.36" y="619.06" width="5.67" height="5.67" fill="#B4E692" stroke="#000" stroke-width="1.0"/>
<circle cx="363.90" cy="648.10" r="3.20" fill="#B4E692" stroke="#000" stroke-width="1.0"/>
<path d="M370.30 619.47L374.61 626.93L365.99 626.93Z" fill="#B4E692" stroke="#000" stroke-width="1.0" stroke-linejoin="miter"/>
<path d="M376.80 602.89L380.81 606.90L376.80 610.91L372.79 606.90Z" fill="#88DECE" stroke="#000" stroke-width="1.0"/>
<rect x="380.36" y="544.96" width="5.67" height="5.67" fill="#88DECE" stroke="#000" stroke-width="1.0"/>
<circle cx="389.50" cy="565.90" r="3.20" fill="#88DECE" stroke="#000" stroke-width="1.0"/>
<path d="M396.30 576.17L400.61 583.63L391.99 583.63Z" fill="#88DECE" stroke="#000" stroke-width="1.0" stroke-linejoin="miter"/>
<path d="M402.80 556.09L406.81 560.10L402.80 564.11L398.79 560.10Z" fill="#AEE05E" stroke="#000" stroke-width="1.0"/>
<rect x="406.36" y="540.46" width="5.67" height="5.67" fill="#AEE05E" stroke="#000" stroke-width="1.0"/>
<circle cx="415.50" cy="550.70" r="3.20" fill="#AEE05E" stroke="#000" stroke-width="1.0"/>
<path d="M422.70 555.57L427.01 563.03L418.39 563.03Z" fill="#AEE05E" stroke="#000" stroke-width="1.0" stroke-linejoin="miter"/>
<path d="M429.00 630.89L433.01 634.90L429.00 638.91L424.99 634.90Z" fill="#D0BCE4" stroke="#000" stroke-width="1.0"/>
<rect x="432.36" y="582.66" width="5.67" height="5.67" fill="#D0BCE4" stroke="#000" stroke-width="1.0"/>
<circle cx="442.00" cy="595.30" r="3.20" fill="#D0BCE4" stroke="#000" stroke-width="1.0"/>
<path d="M448.50 625.77L452.81 633.23L444.19 633.23Z" fill="#D0BCE4" stroke="#000" stroke-width="1.0" stroke-linejoin="miter"/>
<path d="M454.70 680.39L458.71 684.40L454.70 688.41L450.69 684.40Z" fill="#F97B72" stroke="#000" stroke-width="1.0"/>
<rect x="458.76" y="647.46" width="5.67" height="5.67" fill="#F97B72" stroke="#000" stroke-width="1.0"/>
<circle cx="468.10" cy="668.90" r="3.20" fill="#F97B72" stroke="#000" stroke-width="1.0"/>
<path d="M474.60 669.97L478.91 677.43L470.29 677.43Z" fill="#F97B72" stroke="#000" stroke-width="1.0" stroke-linejoin="miter"/>
<path d="M480.80 656.09L484.81 660.10L480.80 664.11L476.79 660.10Z" fill="#E3001B" stroke="#000" stroke-width="1.0"/>
<rect x="484.76" y="638.36" width="5.67" height="5.67" fill="#E3001B" stroke="#000" stroke-width="1.0"/>
<circle cx="494.20" cy="645.30" r="3.20" fill="#E3001B" stroke="#000" stroke-width="1.0"/>
<path d="M500.30 660.17L504.61 667.63L495.99 667.63Z" fill="#E3001B" stroke="#000" stroke-width="1.0" stroke-linejoin="miter"/>
<path d="M507.00 553.09L511.01 557.10L507.00 561.11L502.99 557.10Z" fill="#FDC670" stroke="#000" stroke-width="1.0"/>
<rect x="510.26" y="518.16" width="5.67" height="5.67" fill="#FDC670" stroke="#000" stroke-width="1.0"/>
<circle cx="519.90" cy="544.50" r="3.20" fill="#FDC670" stroke="#000" stroke-width="1.0"/>
<path d="M526.20 565.87L530.51 573.33L521.89 573.33Z" fill="#FDC670" stroke="#000" stroke-width="1.0" stroke-linejoin="miter"/>
<path d="M532.80 502.59L536.81 506.60L532.80 510.61L528.79 506.60Z" fill="#A84C1E" stroke="#000" stroke-width="1.0"/>
<rect x="536.66" y="549.06" width="5.67" height="5.67" fill="#A84C1E" stroke="#000" stroke-width="1.0"/>
<circle cx="545.90" cy="546.50" r="3.20" fill="#A84C1E" stroke="#000" stroke-width="1.0"/>
<path d="M552.60 484.57L556.91 492.03L548.29 492.03Z" fill="#A84C1E" stroke="#000" stroke-width="1.0" stroke-linejoin="miter"/>
<path d="M558.90 611.29L562.91 615.30L558.90 619.31L554.89 615.30Z" fill="#FF7E0E" stroke="#000" stroke-width="1.0"/>
<rect x="562.86" y="559.26" width="5.67" height="5.67" fill="#FF7E0E" stroke="#000" stroke-width="1.0"/>
<circle cx="572.20" cy="567.80" r="3.20" fill="#FF7E0E" stroke="#000" stroke-width="1.0"/>
<path d="M578.60 585.17L582.91 592.63L574.29 592.63Z" fill="#FF7E0E" stroke="#000" stroke-width="1.0" stroke-linejoin="miter"/>
<path d="M585.10 676.89L589.11 680.90L585.10 684.91L581.09 680.90Z" fill="#26A22A" stroke="#000" stroke-width="1.0"/>
<rect x="588.66" y="583.66" width="5.67" height="5.67" fill="#26A22A" stroke="#000" stroke-width="1.0"/>
<circle cx="598.10" cy="626.90" r="3.20" fill="#26A22A" stroke="#000" stroke-width="1.0"/>
<path d="M604.30 669.17L608.61 676.63L599.99 676.63Z" fill="#26A22A" stroke="#000" stroke-width="1.0" stroke-linejoin="miter"/>
<rect x="634.36" y="464.56" width="5.67" height="5.67" fill="#8A8A8A" stroke="#000" stroke-width="1.0"/>
<circle cx="643.50" cy="474.50" r="3.20" fill="#8A8A8A" stroke="#000" stroke-width="1.0"/>
<path d="M650.30 473.37L654.61 480.83L645.99 480.83Z" fill="#8A8A8A" stroke="#000" stroke-width="1.0" stroke-linejoin="miter"/>
<path d="M630.50 495.19L634.51 499.20L630.50 503.21L626.49 499.20Z" fill="#8A8A8A" stroke="#000" stroke-width="1.0"/>
<path d="M636.70 701.29L640.71 705.30L636.70 709.31L632.69 705.30Z" fill="#8A8A8A" stroke="#000" stroke-width="1.0"/>
<text x="649.3" y="709.9" font-size="13.5" font-family="Liberation Sans, sans-serif" fill="#222">fec</text>
<rect x="633.86" y="719.26" width="5.67" height="5.67" fill="#8A8A8A" stroke="#000" stroke-width="1.0"/>
<text x="649.3" y="726.7" font-size="13.5" font-family="Liberation Sans, sans-serif" fill="#222">pob</text>
<circle cx="636.70" cy="739.30" r="3.20" fill="#8A8A8A" stroke="#000" stroke-width="1.0"/>
<text x="649.3" y="743.9" font-size="13.5" font-family="Liberation Sans, sans-serif" fill="#222">por</text>
<path d="M636.70 751.97L641.01 759.43L632.39 759.43Z" fill="#8A8A8A" stroke="#000" stroke-width="1.0" stroke-linejoin="miter"/>
<text x="649.3" y="760.3" font-size="13.5" font-family="Liberation Sans, sans-serif" fill="#222">pre</text>
</svg>
</body></html>
